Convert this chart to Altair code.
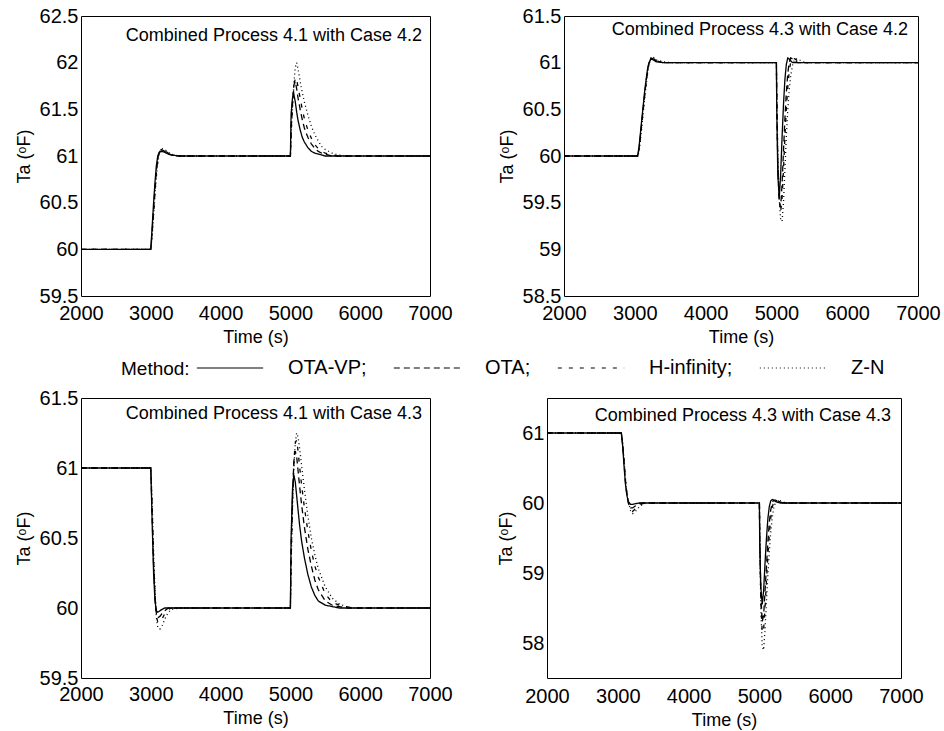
import altair as alt
import pandas as pd

FONT = "Liberation Sans, Arial, sans-serif"
METHODS = ["OTA-VP", "OTA", "H-infinity", "Z-N"]
DASHES = [[1, 0], [6, 4], [4, 7], [1, 3]]
X_TICKS = [2000, 3000, 4000, 5000, 6000, 7000]

# ---- Panel 1: Combined Process 4.1 with Case 4.2 ----
t1 = [2000, 3000, 3020, 3040, 3060, 3080, 3100, 3120, 3150, 3200, 3250, 3300, 3400, 3500,
      5000, 5010, 5030, 5050, 5070, 5090, 5110, 5140, 5170, 5200, 5250, 5300, 5350, 5400,
      5450, 5500, 5600, 5700, 5800, 7000]
p1_otavp = [60, 60, 60.25, 60.5, 60.72, 60.9, 61.0, 61.04, 61.05, 61.04, 61.02, 61.01, 61.0, 61.0,
            61.0, 61.45, 61.62, 61.66, 61.58, 61.47, 61.38, 61.28, 61.2, 61.15, 61.09, 61.05, 61.03,
            61.02, 61.01, 61.0, 61, 61, 61, 61]
p1_ota = [60, 60, 60.2, 60.42, 60.65, 60.85, 60.97, 61.05, 61.07, 61.05, 61.03, 61.01, 61.0, 61.0,
          61.0, 61.3, 61.6, 61.76, 61.8, 61.72, 61.62, 61.5, 61.39, 61.3, 61.2, 61.13, 61.08,
          61.05, 61.03, 61.02, 61.0, 61, 61, 61]
p1_hinf = [60, 60, 60.18, 60.4, 60.62, 60.82, 60.95, 61.03, 61.07, 61.06, 61.03, 61.01, 61.0, 61.0,
           61.0, 61.25, 61.55, 61.74, 61.84, 61.82, 61.74, 61.62, 61.5, 61.4, 61.28, 61.19, 61.12,
           61.08, 61.05, 61.03, 61.01, 61.0, 61, 61]
p1_zn = [60, 60, 60.15, 60.35, 60.58, 60.78, 60.92, 61.02, 61.08, 61.07, 61.04, 61.02, 61.0, 61.0,
         61.0, 61.2, 61.5, 61.78, 61.95, 62.0, 61.93, 61.8, 61.68, 61.58, 61.44, 61.32, 61.23,
         61.16, 61.1, 61.07, 61.03, 61.01, 61.0, 61]

# ---- Panel 2: Combined Process 4.3 with Case 4.2 ----
t2 = [2000, 3040, 3060, 3080, 3100, 3120, 3140, 3160, 3180, 3200, 3230, 3260, 3300, 3400, 3500,
      5000, 5005, 5020, 5040, 5060, 5080, 5100, 5120, 5140, 5160, 5180, 5200, 5230, 5260, 5300,
      5350, 5400, 5500, 7000]
p2_otavp = [60, 60, 60.1, 60.25, 60.4, 60.55, 60.7, 60.82, 60.93, 61.0, 61.04, 61.03, 61.01, 61.0, 61.0,
            61.0, 60.5, 59.8, 59.55, 59.8, 60.2, 60.55, 60.82, 60.98, 61.05, 61.04, 61.02, 61.0, 61.0,
            61, 61, 61, 61, 61]
p2_ota = [60, 60, 60.08, 60.22, 60.37, 60.52, 60.67, 60.8, 60.92, 61.0, 61.05, 61.04, 61.02, 61.0, 61.0,
          61.0, 60.6, 59.9, 59.5, 59.45, 59.7, 60.05, 60.4, 60.68, 60.88, 61.0, 61.05, 61.04, 61.02,
          61.0, 61, 61, 61, 61]
p2_hinf = [60, 60, 60.07, 60.2, 60.35, 60.5, 60.65, 60.78, 60.9, 60.99, 61.05, 61.05, 61.02, 61.0, 61.0,
           61.0, 60.65, 59.95, 59.55, 59.4, 59.55, 59.85, 60.2, 60.5, 60.73, 60.9, 61.0, 61.05, 61.04,
           61.02, 61.01, 61, 61, 61]
p2_zn = [60, 60, 60.05, 60.17, 60.32, 60.47, 60.62, 60.75, 60.88, 60.98, 61.06, 61.06, 61.03, 61.01, 61.0,
         61.0, 60.7, 60.0, 59.55, 59.32, 59.3, 59.5, 59.85, 60.2, 60.48, 60.7, 60.85, 60.98, 61.04,
         61.04, 61.02, 61.0, 61, 61]

# ---- Panel 3: Combined Process 4.1 with Case 4.3 ----
t3 = [2000, 3000, 3020, 3040, 3060, 3080, 3100, 3130, 3160, 3200, 3250, 3300, 3400, 3500,
      5000, 5010, 5030, 5050, 5070, 5090, 5110, 5130, 5160, 5200, 5250, 5300, 5350, 5400,
      5500, 5600, 5700, 5800, 5900, 7000]
p3_otavp = [61, 61, 60.6, 60.25, 60.05, 59.98, 59.97, 59.98, 59.99, 60, 60, 60, 60, 60,
            60, 60.5, 60.85, 60.95, 60.9, 60.8, 60.7, 60.6, 60.48, 60.36, 60.24, 60.15, 60.09,
            60.05, 60.02, 60.01, 60, 60, 60, 60]
p3_ota = [61, 61, 60.65, 60.3, 60.08, 59.96, 59.93, 59.94, 59.96, 59.98, 60, 60, 60, 60,
          60, 60.4, 60.8, 61.05, 61.12, 61.08, 60.98, 60.88, 60.74, 60.58, 60.42, 60.3, 60.2,
          60.13, 60.05, 60.02, 60.01, 60, 60, 60]
p3_hinf = [61, 61, 60.7, 60.35, 60.1, 59.94, 59.9, 59.9, 59.92, 59.96, 59.99, 60, 60, 60,
           60, 60.35, 60.75, 61.05, 61.18, 61.2, 61.12, 61.02, 60.88, 60.72, 60.55, 60.41, 60.3,
           60.22, 60.1, 60.04, 60.02, 60.01, 60, 60]
p3_zn = [61, 61, 60.75, 60.4, 60.12, 59.93, 59.86, 59.85, 59.87, 59.92, 59.97, 59.99, 60, 60,
         60, 60.3, 60.7, 61.0, 61.18, 61.25, 61.22, 61.15, 61.02, 60.85, 60.66, 60.5, 60.38,
         60.28, 60.15, 60.07, 60.03, 60.01, 60, 60]

# ---- Panel 4: Combined Process 4.3 with Case 4.3 ----
t4 = [2000, 3050, 3070, 3090, 3110, 3130, 3150, 3180, 3210, 3250, 3300, 3350, 3400, 3500,
      5000, 5005, 5020, 5040, 5060, 5080, 5100, 5120, 5140, 5160, 5180, 5200, 5230, 5260,
      5300, 5350, 5400, 5500, 7000]
p4_otavp = [61, 61, 60.8, 60.5, 60.25, 60.1, 60.02, 59.98, 59.98, 59.99, 60, 60, 60, 60,
            60, 59.4, 58.8, 58.55, 58.75, 59.15, 59.5, 59.78, 59.95, 60.03, 60.05, 60.04, 60.02,
            60.01, 60, 60, 60, 60, 60]
p4_ota = [61, 61, 60.82, 60.55, 60.28, 60.1, 60.0, 59.93, 59.93, 59.96, 59.99, 60, 60, 60,
          60, 59.5, 58.7, 58.3, 58.4, 58.75, 59.1, 59.45, 59.72, 59.9, 60.0, 60.04, 60.04,
          60.02, 60.01, 60, 60, 60, 60]
p4_hinf = [61, 61, 60.83, 60.58, 60.3, 60.12, 60.0, 59.9, 59.88, 59.92, 59.97, 59.99, 60, 60,
           60, 59.55, 58.6, 58.15, 58.2, 58.5, 58.9, 59.25, 59.55, 59.78, 59.93, 60.01, 60.04,
           60.03, 60.01, 60, 60, 60, 60]
p4_zn = [61, 61, 60.85, 60.6, 60.33, 60.14, 60.02, 59.89, 59.85, 59.88, 59.94, 59.98, 60, 60,
         60, 59.6, 58.5, 57.95, 57.9, 58.2, 58.6, 58.98, 59.3, 59.58, 59.78, 59.92, 60.02,
         60.04, 60.03, 60.01, 60, 60, 60]

TITLES = ["Combined Process 4.1 with Case 4.2", "Combined Process 4.3 with Case 4.2",
          "Combined Process 4.1 with Case 4.3", "Combined Process 4.3 with Case 4.3"]


def make_df(t, series):
    rows = []
    for m, vals in zip(METHODS, series):
        for ti, v in zip(t, vals):
            rows.append({"time": ti, "ta": v, "method": m})
    return pd.DataFrame(rows)


LEGEND = alt.Legend(
    orient="none", legendX=40, legendY=318, direction="horizontal",
    title="Method:", titleOrient="left", titleAnchor="middle", titleBaseline="line-top",
    titleLineHeight=26,
    titleFont=FONT, titleFontSize=19,
    titleFontWeight="normal", titleColor="black", titlePadding=6,
    labelFont=FONT, labelFontSize=20, labelColor="black", labelOffset=24,
    columnPadding=24, symbolType="stroke", symbolSize=4400, symbolStrokeWidth=1.2,
    symbolStrokeColor="black",
    labelExpr="datum.label == 'Z-N' ? datum.label : datum.label + ';'",
)


def panel(df, title, ydom, yvals, w, h, tx, ty, xlabpad=7):
    lines = alt.Chart(df).mark_line(color="black", strokeWidth=1.3).encode(
        x=alt.X("time:Q", scale=alt.Scale(domain=[2000, 7000], nice=False),
                axis=alt.Axis(values=X_TICKS, format="d", title="Time (s)", labelFlush=False,
                              labelPadding=xlabpad, titlePadding=5)),
        y=alt.Y("ta:Q", scale=alt.Scale(domain=ydom, nice=False, zero=False),
                axis=alt.Axis(values=yvals, format="~f", title="Ta (ᵒF)",
                              labelPadding=3, titlePadding=6)),
        strokeDash=alt.StrokeDash("method:N", scale=alt.Scale(domain=METHODS, range=DASHES),
                                  legend=LEGEND),
    )
    label = alt.Chart(pd.DataFrame({"label": [title]})).mark_text(
        align="right", baseline="middle", font=FONT, fontSize=18, color="black"
    ).encode(x=alt.value(w - tx), y=alt.value(ty), text="label:N")
    return alt.layer(lines, label).properties(width=w, height=h)


c1 = panel(make_df(t1, [p1_otavp, p1_ota, p1_hinf, p1_zn]), TITLES[0], [59.5, 62.5],
           [59.5, 60, 60.5, 61, 61.5, 62, 62.5], 349, 280, 8, 20)
c2 = panel(make_df(t2, [p2_otavp, p2_ota, p2_hinf, p2_zn]), TITLES[1], [58.5, 61.5],
           [58.5, 59, 59.5, 60, 60.5, 61, 61.5], 354, 280, 10, 14)
c3 = panel(make_df(t3, [p3_otavp, p3_ota, p3_hinf, p3_zn]), TITLES[2], [59.5, 61.5],
           [59.5, 60, 60.5, 61, 61.5], 349, 280, 8, 16, xlabpad=6)
c4 = panel(make_df(t4, [p4_otavp, p4_ota, p4_hinf, p4_zn]), TITLES[3], [57.5, 61.5],
           [58, 59, 60, 61], 354, 280, 10, 18, xlabpad=8)

top = alt.hconcat(c1, c2, spacing=44)
bottom = alt.hconcat(c3, c4, spacing=44)
chart = alt.vconcat(top, bottom, spacing=40).resolve_scale(strokeDash="shared").properties(
    padding={"left": 14, "top": 5, "right": 0, "bottom": 0}, background="white"
).configure_view(stroke="black", strokeWidth=1).configure_axis(
    domain=False, ticks=False, grid=False, labelFont=FONT, labelFontSize=20,
    labelColor="black", titleFont=FONT, titleFontSize=18, titleFontWeight="normal",
    titleColor="black"
)

chart.save("out.html", embed_options={"renderer": "svg", "actions": False})
